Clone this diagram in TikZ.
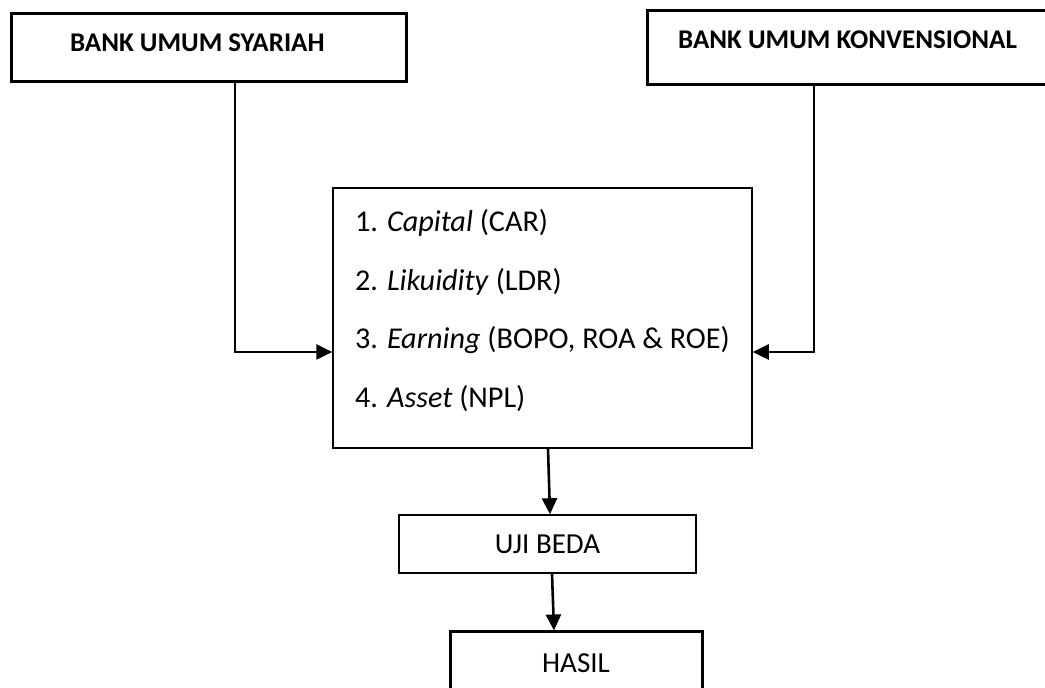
\documentclass[tikz,border=0pt]{standalone}
\usepackage{fontspec}
\setmainfont{Carlito}
\usetikzlibrary{arrows.meta,positioning,calc}

\begin{document}
\begin{tikzpicture}[
    x=0.5pt, y=-0.5pt,
    every node/.style={font=\fontsize{14.5pt}{17pt}\selectfont},
    headbox/.style={rectangle, draw, line width=1.5pt, font=\fontsize{13.5pt}{16pt}\selectfont\bfseries, text height=8.7pt},
    block/.style={rectangle, draw, line width=0.75pt},
    arrow/.style={-{Triangle[length=8pt,width=7.5pt]}, line width=1.3pt}
]
    \useasboundingbox (0,0) rectangle (1045,688);

    % Bank groups
    \node[headbox, text width=138.5pt, inner xsep=29.5pt, align=flush left, minimum height=34pt, text depth=5pt] (bus) at (208.5,48) {BANK UMUM SYARIAH};
    \node[headbox, minimum width=200.5pt, minimum height=37pt, text depth=8pt] (buk) at (847.5,48) {BANK UMUM KONVENSIONAL};

    % Ratios
    \node[block, text width=187.5pt, inner xsep=11pt, inner ysep=0pt, align=flush left, font=\fontsize{15.1pt}{29.33pt}\selectfont] (rasio) at (542.5,318)
        {\rule{0pt}{21.75pt}1. \textit{Capital} (CAR)\\ 2. \textit{Likuidity} (LDR)\\ 3. \textit{Earning} (BOPO, ROA \& ROE)\\ 4. \textit{Asset} (NPL)\rule[-20.25pt]{0pt}{20.25pt}};

    % Test and result
    \node[block, minimum width=148.5pt, minimum height=29pt] (uji) at (547.5,544) {UJI BEDA};
    \node[block, line width=1.5pt, minimum width=126pt, minimum height=31pt] (hasil) at (576,663) {HASIL};

    % Arrows
    \draw[arrow] ([xshift=13.25pt]bus.south) |- ([yshift=-17pt]rasio.west);
    \draw[arrow] ([xshift=-16.75pt]buk.south) |- ([yshift=-17pt]rasio.east);
    \draw[arrow] ([xshift=2.75pt]rasio.south) -- ([xshift=1.25pt]uji.north);
    \draw[arrow] ([xshift=2.25pt]uji.south) -- ([xshift=-11pt]hasil.north);

\end{tikzpicture}
\end{document}
